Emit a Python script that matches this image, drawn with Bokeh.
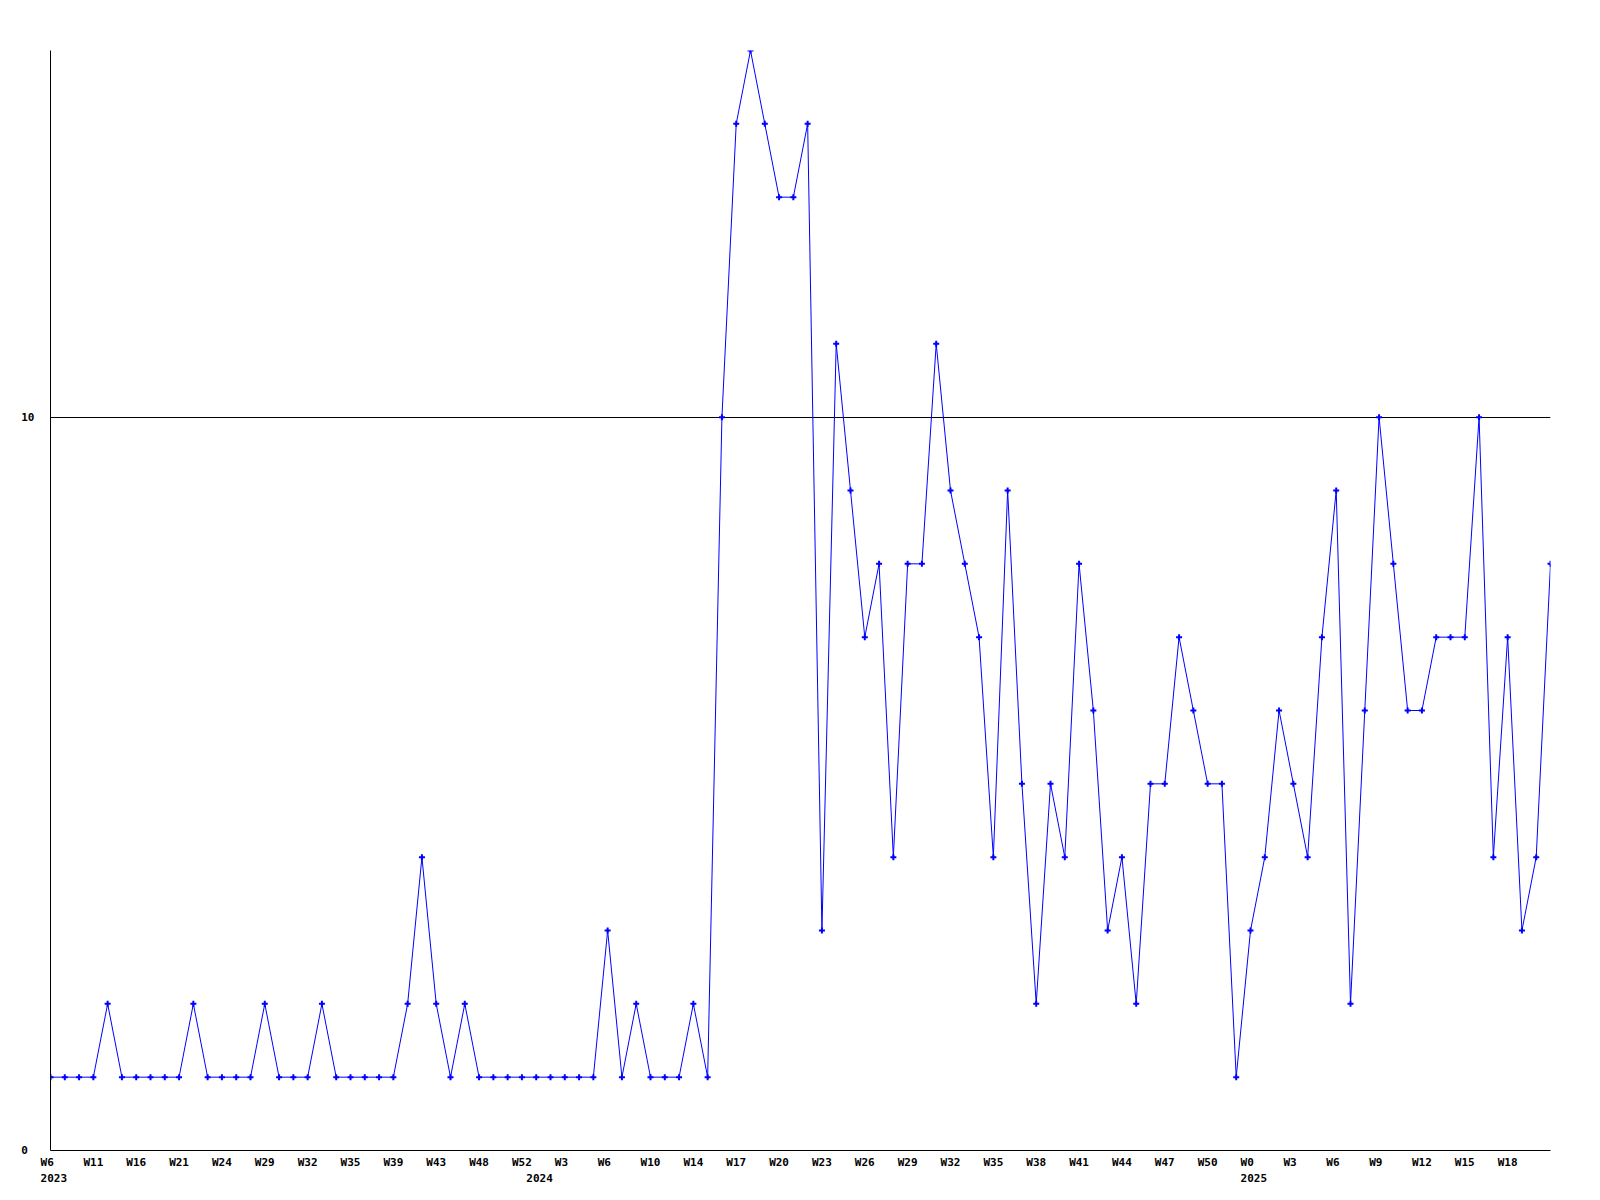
from bokeh.plotting import figure
from bokeh.models import Range1d, FixedTicker, LinearAxis
from bokeh.embed import file_html
from bokeh.resources import INLINE

NB = "\u00a0"

# Weekly counts (one point per reported week)
values = [1, 1, 1, 1, 2, 1, 1, 1, 1, 1,
          2, 1, 1, 1, 1, 2, 1, 1, 1, 2,
          1, 1, 1, 1, 1, 2, 4, 2, 1, 2,
          1, 1, 1, 1, 1, 1, 1, 1, 1, 3,
          1, 2, 1, 1, 1, 2, 1, 10, 14, 15,
          14, 13, 13, 14, 3, 11, 9, 7, 8, 4,
          8, 8, 11, 9, 8, 7, 4, 9, 5, 2,
          5, 4, 8, 6, 3, 4, 2, 5, 5, 7,
          6, 5, 5, 1, 3, 4, 6, 5, 4, 7,
          9, 2, 6, 10, 8, 6, 6, 7, 7, 7,
          10, 4, 7, 3, 4, 8]

# Week tick labels (every third point)
tick_labels = ["W6", "W11", "W16", "W21", "W24", "W29", "W32", "W35", "W39", "W43",
               "W48", "W52", "W3", "W6", "W10", "W14", "W17", "W20", "W23", "W26",
               "W29", "W32", "W35", "W38", "W41", "W44", "W47", "W50", "W0", "W3",
               "W6", "W9", "W12", "W15", "W18"]
tick_step = 3

# Year labels and the index of the first point of each year
year_labels = ["2023", "2024", "2025"]
year_index = [0, 34, 84]

y_ticks = [0, 10]
y_max = 15

xs = list(range(len(values)))
week_ticks = list(range(0, len(tick_labels) * tick_step, tick_step))

FONT = "DejaVu Sans Mono"

p = figure(frame_width=1500, frame_height=1100,
           min_border_left=50, min_border_top=50, min_border_right=30, min_border_bottom=50,
           x_range=Range1d(0, len(values) - 1), y_range=Range1d(0, y_max),
           output_backend="svg", toolbar_location=None)

p.outline_line_color = None
p.background_fill_color = "white"
p.border_fill_color = "white"

# x axis (weeks)
xa = p.xaxis[0]
xa.ticker = FixedTicker(ticks=week_ticks)
xa.major_label_overrides = {t: (lab + NB * (3 - len(lab))) for t, lab in zip(week_ticks, tick_labels)}
xa.major_tick_line_color = None
xa.major_tick_out = 0
xa.major_tick_in = 0
xa.minor_tick_line_color = None
xa.minor_tick_out = 0
xa.axis_line_color = "black"
xa.axis_line_width = 1
xa.major_label_standoff = 5
xa.major_label_text_font = FONT
xa.major_label_text_font_style = "bold"
xa.major_label_text_font_size = "11px"
xa.major_label_text_color = "black"

# year axis below
ya2 = LinearAxis(ticker=FixedTicker(ticks=year_index),
                 major_label_overrides={i: NB + y for i, y in zip(year_index, year_labels)},
                 axis_line_color=None, major_tick_line_color=None, minor_tick_line_color=None,
                 major_tick_out=0, major_tick_in=0, minor_tick_out=0,
                 major_label_standoff=0,
                 major_label_text_font=FONT, major_label_text_font_style="bold",
                 major_label_text_font_size="11px", major_label_text_color="black")
p.add_layout(ya2, "below")

# y axis
yax = p.yaxis[0]
yax.ticker = FixedTicker(ticks=y_ticks)
yax.major_label_overrides = {0: "0" + NB, 10: "10"}
yax.major_tick_line_color = None
yax.major_tick_out = 0
yax.major_tick_in = 0
yax.minor_tick_line_color = None
yax.minor_tick_out = 0
yax.axis_line_color = "black"
yax.major_label_standoff = 16
yax.major_label_text_font = FONT
yax.major_label_text_font_style = "bold"
yax.major_label_text_font_size = "11px"
yax.major_label_text_color = "black"

p.xgrid.visible = False
p.ygrid.ticker = FixedTicker(ticks=[10])
p.ygrid.grid_line_color = "black"
p.ygrid.grid_line_width = 1

p.line(xs, values, line_color="#0000ff", line_width=1)
p.scatter(xs, values, marker="cross", size=6, line_color="#0000ff", line_width=2)

open("out.html", "w").write(file_html(p, INLINE))
